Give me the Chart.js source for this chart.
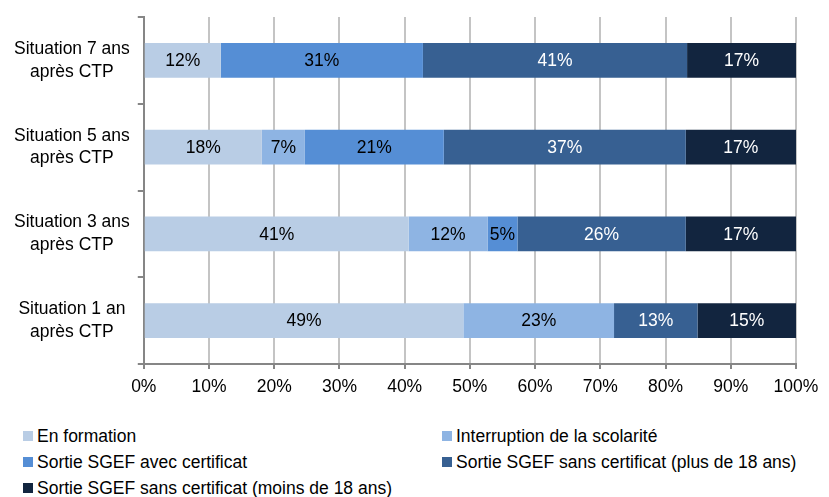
<!DOCTYPE html>
<html lang="fr">
<head>
<meta charset="UTF-8">
<title>Situation après CTP</title>
<script src="https://cdn.jsdelivr.net/npm/chart.js"></script>
<style>
  body { margin: 0; background: #fff; font-family: 'Liberation Sans', Arial, sans-serif; }
  #wrap { position: relative; width: 829px; height: 497px; }
  #chartBox { position: absolute; left: 0; top: 0; width: 829px; height: 406px; }
  #legend { position: absolute; left: 23px; top: 425px; width: 800px;
            display: grid; grid-template-columns: 419px 380px; row-gap: 4px; }
  .item { display: flex; align-items: center; font-size: 17.5px; height: 22px; color: #000; }
  .box { width: 10px; height: 10px; margin-right: 4px; flex: none; }
</style>
</head>
<body>
<div id="wrap">
  <div id="chartBox"><canvas id="myChart"></canvas></div>
  <div id="legend"></div>
</div>
<script>
const categories = [
  ['Situation 7 ans', 'après CTP'],
  ['Situation 5 ans', 'après CTP'],
  ['Situation 3 ans', 'après CTP'],
  ['Situation 1 an', 'après CTP']
];
const seriesNames = [
  'En formation',
  'Interruption de la scolarité',
  'Sortie SGEF avec certificat',
  'Sortie SGEF sans certificat (plus de 18 ans)',
  'Sortie SGEF sans certificat (moins de 18 ans)'
];
// percentages per category, top to bottom
const enFormation   = [11.8, 18.1, 40.6, 49.0];
const interruption  = [0,    6.6,  12.1, 23.1];
const avecCertif    = [31.0, 21.3, 4.6,  0];
const sansPlus18    = [40.5, 37.1, 25.8, 12.8];
const sansMoins18   = [16.7, 16.9, 16.9, 15.1];
const xTicks = [0, 10, 20, 30, 40, 50, 60, 70, 80, 90, 100];

const colors = ['#B9CDE5', '#8EB4E3', '#558ED5', '#376092', '#12253F'];
const labelColors = ['#000', '#000', '#000', '#fff', '#fff'];
const FONT = "'Liberation Sans', Arial, sans-serif";

const allSeries = [enFormation, interruption, avecCertif, sansPlus18, sansMoins18];

const datasets = allSeries.map((vals, i) => ({
  label: seriesNames[i],
  data: vals,
  backgroundColor: colors[i],
  borderWidth: 0,
  categoryPercentage: 1,
  barPercentage: 0.4
}));

// percent labels inside the bars
const barLabels = {
  id: 'barLabels',
  afterDatasetsDraw(chart) {
    const ctx = chart.ctx;
    ctx.save();
    ctx.font = '17.5px ' + FONT;
    ctx.textAlign = 'center';
    ctx.textBaseline = 'middle';
    chart.data.datasets.forEach((ds, i) => {
      const meta = chart.getDatasetMeta(i);
      meta.data.forEach((bar, j) => {
        const v = ds.data[j];
        if (!v) return;
        const left = Math.min(bar.x, bar.base);
        const right = Math.max(bar.x, bar.base);
        ctx.fillStyle = labelColors[i];
        ctx.fillText(Math.round(v) + '%', (left + right) / 2, bar.y + 1);
      });
    });
    ctx.restore();
  }
};

new Chart(document.getElementById('myChart'), {
  type: 'bar',
  data: { labels: categories, datasets: datasets },
  plugins: [barLabels],
  options: {
    indexAxis: 'y',
    responsive: true,
    maintainAspectRatio: false,
    animation: false,
    layout: { padding: { top: 17, right: 33, left: 6, bottom: 0 } },
    plugins: { legend: { display: false }, tooltip: { enabled: false } },
    scales: {
      x: {
        stacked: true,
        min: 0,
        max: 100,
        afterBuildTicks: (axis) => { axis.ticks = xTicks.map(v => ({ value: v })); },
        grid: { color: '#C4C4C4', lineWidth: 2, tickColor: '#868686', tickLength: 5 },
        border: { color: '#868686', width: 2 },
        ticks: {
          color: '#000',
          font: { family: FONT, size: 17.5 },
          padding: 8,
          callback: v => v + '%'
        }
      },
      y: {
        stacked: true,
        // labels sit inside the category bands, no extra room above/below needed
        afterFit: (scale) => { scale.paddingTop = 0; scale.paddingBottom = 0; },
        grid: { drawOnChartArea: false, offset: true, color: '#868686', lineWidth: 2, tickLength: 6 },
        border: { color: '#868686', width: 2 },
        ticks: {
          color: '#000',
          font: { family: FONT, size: 17.5, lineHeight: 1.3 },
          crossAlign: 'center',
          padding: 8
        }
      }
    }
  }
});

// legend laid out in two columns
const legend = document.getElementById('legend');
seriesNames.forEach((name, i) => {
  const item = document.createElement('div');
  item.className = 'item';
  item.innerHTML = '<span class="box" style="background:' + colors[i] + '"></span>' + name;
  legend.appendChild(item);
});
</script>
</body>
</html>
